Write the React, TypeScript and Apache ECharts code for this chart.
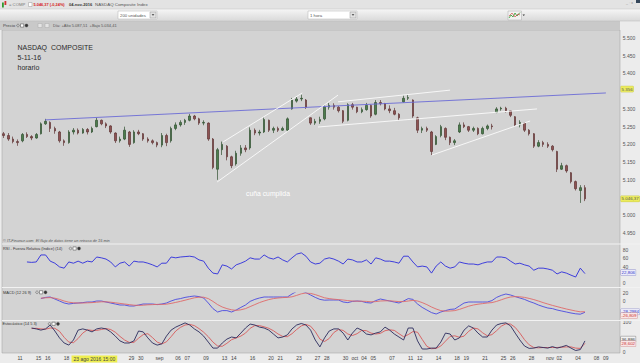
import React, { useEffect, useRef } from "react";
import * as echarts from "echarts";

const FONT = "'Liberation Sans', 'DejaVu Sans', Arial, sans-serif";

// ---- time axis: trading days (Aug 11 2016 = day 0); two half-day bars per day, slot = 2*day + 4
const SLOT_COUNT = 133;
const axisTickDays = [0, 2, 3, 5, 8, 12, 13, 15, 17, 18, 20, 22, 23, 25, 27, 28, 30, 32, 33, 35, 36, 37, 38, 40, 42, 43, 45, 47, 48, 50, 52, 53, 55, 57, 58, 60, 62, 63];
const axisTickLabels = ["11", "15", "16", "18", "23 ago 2016 15:00", "29", "30", "sep", "06", "07", "09", "13", "14", "16", "20", "21", "23", "27", "28", "30", "oct", "04", "05", "07", "11", "12", "14", "18", "19", "21", "25", "26", "28", "nov", "02", "04", "08", "09"];
const HIGHLIGHT_TICK = 4;

// ---- price bars (half-day): [open, close, low, high]
const priceBars: number[][] = [
  [5230, 5225, 5218, 5235], [5225, 5215, 5210, 5232], [5215, 5208, 5203, 5222], [5208, 5205, 5196, 5214],
  [5210, 5228, 5206, 5232], [5228, 5222, 5218, 5234], [5222, 5218, 5212, 5226], [5218, 5228, 5216, 5232],
  [5230, 5258, 5228, 5262], [5258, 5265, 5255, 5272], [5262, 5245, 5235, 5265], [5245, 5238, 5230, 5250],
  [5235, 5210, 5205, 5238], [5210, 5205, 5196, 5214], [5205, 5235, 5202, 5240], [5235, 5240, 5228, 5246],
  [5240, 5232, 5228, 5245], [5232, 5242, 5230, 5246], [5242, 5235, 5228, 5246], [5235, 5245, 5232, 5250],
  [5250, 5268, 5248, 5275], [5268, 5258, 5254, 5270], [5258, 5252, 5246, 5262], [5252, 5235, 5230, 5254],
  [5232, 5210, 5204, 5234], [5210, 5215, 5205, 5222], [5215, 5240, 5212, 5250], [5235, 5200, 5193, 5238],
  [5205, 5235, 5202, 5240], [5235, 5230, 5226, 5241], [5230, 5215, 5210, 5232], [5215, 5210, 5205, 5220],
  [5210, 5205, 5200, 5214], [5205, 5198, 5192, 5208], [5198, 5225, 5192, 5232], [5225, 5205, 5195, 5230],
  [5210, 5245, 5205, 5250], [5245, 5255, 5240, 5262], [5255, 5262, 5250, 5268], [5262, 5268, 5255, 5272],
  [5268, 5280, 5265, 5286], [5280, 5272, 5268, 5283], [5272, 5260, 5255, 5275], [5260, 5262, 5254, 5268],
  [5260, 5215, 5210, 5262], [5215, 5135, 5130, 5218], [5130, 5185, 5100, 5190], [5185, 5200, 5170, 5208],
  [5195, 5165, 5155, 5198], [5165, 5140, 5133, 5168], [5145, 5175, 5140, 5182], [5175, 5190, 5168, 5198],
  [5190, 5185, 5178, 5198], [5190, 5240, 5185, 5248], [5240, 5232, 5226, 5245], [5232, 5235, 5225, 5241],
  [5235, 5270, 5232, 5276], [5268, 5240, 5235, 5270], [5240, 5245, 5232, 5250], [5245, 5240, 5235, 5250],
  [5240, 5245, 5238, 5250], [5240, 5272, 5235, 5276], [5300, 5325, 5298, 5331], [5322, 5328, 5318, 5334],
  [5328, 5330, 5322, 5340], [5325, 5305, 5300, 5328], [5275, 5260, 5255, 5276], [5260, 5265, 5255, 5272],
  [5265, 5270, 5258, 5278], [5272, 5305, 5268, 5310], [5305, 5310, 5298, 5317], [5310, 5305, 5298, 5316],
  [5305, 5295, 5290, 5308], [5295, 5265, 5260, 5297], [5268, 5312, 5265, 5316], [5312, 5305, 5298, 5317],
  [5305, 5292, 5288, 5306], [5292, 5298, 5288, 5304], [5298, 5310, 5295, 5317], [5310, 5280, 5275, 5312],
  [5285, 5318, 5282, 5325], [5318, 5315, 5310, 5325], [5315, 5300, 5296, 5317], [5300, 5295, 5288, 5310],
  [5295, 5285, 5282, 5303], [5285, 5275, 5268, 5288], [5320, 5330, 5318, 5338], [5330, 5332, 5325, 5340],
  [5325, 5280, 5275, 5327], [5275, 5240, 5232, 5278], [5240, 5245, 5232, 5250], [5245, 5240, 5235, 5250],
  [5235, 5180, 5170, 5238], [5200, 5222, 5198, 5226], [5225, 5250, 5220, 5255], [5245, 5220, 5212, 5248],
  [5220, 5205, 5198, 5222], [5205, 5210, 5198, 5215], [5235, 5255, 5232, 5262], [5255, 5250, 5246, 5262],
  [5250, 5240, 5235, 5252], [5240, 5245, 5235, 5250], [5245, 5230, 5226, 5248], [5230, 5245, 5228, 5250],
  [5245, 5252, 5240, 5256], [5252, 5250, 5242, 5258], [5290, 5300, 5288, 5305], [5300, 5302, 5295, 5306],
  [5302, 5295, 5290, 5306], [5295, 5282, 5277, 5296], [5278, 5255, 5250, 5280], [5255, 5262, 5248, 5268],
  [5260, 5240, 5235, 5262], [5240, 5230, 5225, 5243], [5230, 5195, 5190, 5232], [5195, 5205, 5192, 5212],
  [5205, 5200, 5193, 5210], [5200, 5195, 5190, 5206], [5195, 5185, 5180, 5198], [5180, 5130, 5122, 5182],
  [5130, 5140, 5128, 5148], [5140, 5125, 5120, 5143], [5120, 5095, 5090, 5122], [5095, 5075, 5070, 5098],
  [5070, 5078, 5035, 5085], [5078, 5046.37, 5040, 5085],
];
const LAST_PRICE = 5046.37;
const TREND_TAG = 5356;

// ---- hand-drawn trend lines: [[slot, price], [slot, price]]
const blueTrend = [[8.9, 5269], [129.5, 5345]];
const whiteTrends = [
  [[45.9, 5094], [71.9, 5339]],
  [[47.2, 5207], [64.2, 5345]],
  [[71.9, 5320], [96.0, 5353]],
  [[67.6, 5249], [114.7, 5300]],
  [[92.1, 5170], [113.2, 5266]],
];

// ---- RSI (14), from slot 5
const RSI_START = 5;
const rsi = [51, 50, 51, 68, 68, 53, 48, 39, 36, 51, 48, 53, 48, 53, 51, 63, 61, 58, 51, 39, 48, 51, 41, 53, 51, 51, 48, 44, 39, 48, 48, 63, 61, 63, 64, 65, 63, 56, 53, 36, 24, 22, 44, 41, 34, 44, 48, 53, 61, 58, 58, 68, 61, 58, 63, 56, 51, 61, 70, 73, 65, 51, 46, 48, 58, 61, 58, 53, 46, 58, 56, 51, 51, 56, 46, 61, 58, 53, 53, 51, 48, 65, 65, 51, 39, 41, 39, 24, 41, 51, 41, 36, 39, 51, 48, 46, 46, 44, 48, 51, 51, 63, 63, 61, 53, 46, 48, 44, 41, 31, 36, 36, 34, 31, 22, 27, 24, 19, 14.5, 36, 22.806];

// ---- MACD (12 26 9), from slot 8
const MACD_START = 8;
const macdLine = [6, 9, 10, 5, 0, -5, -7.5, -6, -5, -4, -2.5, -2.5, 0, 0, -2.5, -5, -7.5, -10, -10, -12.5, -12.5, -10, -7.5, -7.5, -7.5, -9, -7.5, -5, 0, 4, 6, 9, 11, 12.5, 11, 7.5, -5, -19, -27.5, -24, -24, -27.5, -22.5, -16, -10, -1, 4, 7.5, 10, 10, 10, 10, 10, 10, 17.5, 24, 25, 21, 15, 9, 4, 2, 2.5, 2.5, 2.5, -2.5, -4, -1, 0, -1, -4, -5, 1, 5, 2.5, 0, -2.5, -5, 0, 6, 4, -7.5, -16, -22.5, -29, -32.5, -27.5, -24, -21, -20, -12.5, -5, -2.5, -2.5, -2.5, -2.5, -2.5, 1, 9, 14, 17.5, 15, 11, 7.5, 4, -1, -5, -10, -14, -17.5, -19, -22.5, -25, -27.5, -30, -32, -33, -28.2984];
const macdSignal = [7, 8, 8.5, 7, 4, 0, -3, -4.5, -5, -5, -4.5, -4, -3, -2, -2, -3, -4.5, -6, -7.5, -9, -10.5, -11, -10.5, -9.5, -9, -8.5, -8.5, -8, -6, -3.5, -1, 2, 5, 8, 9.5, 9.5, 6, -1, -9, -15, -19, -22, -23.5, -22, -19, -14, -9, -4, 0, 3.5, 6, 7.5, 8.5, 9, 10.5, 14, 18, 20, 19, 16, 12, 8, 6, 4.5, 3.5, 2.5, 1, 0, -0.5, -0.5, -1, -2, -1.5, 0, 0.5, 0.5, -0.5, -1.5, -1.5, 0, 1.5, 0, -4, -9, -15, -20, -24, -25.5, -25, -24, -21, -17, -13, -10, -8, -6.5, -5, -4, -1, 3, 7, 10, 11, 10.5, 9, 6.5, 3.5, 0, -4, -7.5, -11, -14, -17, -20, -22.5, -25, -27, -26.809];

// ---- Stochastic (14 5 3), from slot 6
const STOCH_START = 6;
const stochK = [80, 77, 73, 77, 90, 70, 47, 30, 23, 40, 73, 77, 73, 67, 77, 80, 77, 67, 53, 37, 30, 30, 37, 70, 67, 47, 30, 23, 27, 53, 73, 83, 90, 97, 90, 77, 67, 53, 33, 13, 13, 30, 43, 50, 47, 63, 80, 93, 90, 83, 80, 73, 60, 47, 50, 57, 77, 90, 95, 90, 73, 40, 17, 47, 70, 77, 77, 63, 40, 63, 80, 73, 60, 57, 63, 67, 83, 73, 60, 50, 40, 80, 80, 37, 10, 10, 13, 13, 33, 63, 60, 40, 47, 73, 87, 80, 63, 50, 50, 73, 90, 95, 97, 87, 63, 40, 20, 12, 13, 17, 15, 13, 18, 13, 17, 22, 13, 5, 8, 36.886];
const stochD = [78, 79, 77, 76, 80, 79, 69, 49, 33, 31, 45, 63, 74, 72, 72, 75, 78, 75, 66, 52, 40, 32, 32, 46, 58, 61, 48, 33, 27, 34, 51, 70, 82, 90, 92, 88, 78, 66, 51, 33, 20, 19, 29, 41, 47, 53, 63, 79, 88, 88, 84, 79, 71, 60, 52, 51, 61, 75, 87, 92, 86, 68, 43, 35, 45, 65, 75, 72, 60, 55, 61, 72, 71, 63, 60, 62, 71, 74, 72, 61, 51, 58, 68, 66, 42, 19, 11, 12, 20, 36, 52, 54, 49, 53, 69, 80, 77, 64, 54, 58, 71, 86, 94, 93, 82, 63, 41, 24, 15, 14, 15, 15, 15, 15, 16, 17, 17, 13, 12, 28.602];

// axis labels that the value tags cover in the reference
const hiddenPriceLabels = [5350, 5050];
const hiddenRsiLabels = [20, 100];

// value tags on the right axis strip: [yAxisIndex, value, text, kind, nudge]
const valueTags: [number, number, string, string, number][] = [
  [1, TREND_TAG, "5.356", "yellow", 0],
  [1, LAST_PRICE, "5.046,37", "yellow", 0],
  [2, rsi[rsi.length - 1], "22,806", "blue", -1],
  [3, macdLine[macdLine.length - 1], "-28,2984", "blue", -0.5],
  [3, macdSignal[macdSignal.length - 1], "-26,809", "red", 4],
  [4, stochK[stochK.length - 1], "36,886", "dark", -1.8],
  [4, stochD[stochD.length - 1], "28,602", "red", 0.3],
];
const TAG_STYLES: Record<string, { fill: string; bg: string; border: string }> = {
  yellow: { fill: "#555", bg: "#ecec5c", border: "#c8c840" },
  blue: { fill: "#3333cc", bg: "#ececf8", border: "#9a9ad0" },
  red: { fill: "#cc3333", bg: "#f8e6e6", border: "#d09a9a" },
  dark: { fill: "#333", bg: "#f2f2f2", border: "#777" },
};

const fmtThousands = (v: number) => {
  const s = String(Math.round(v));
  return s.length > 3 ? s.slice(0, s.length - 3) + "." + s.slice(-3) : s;
};

const PLOT_LEFT = 1.375;
const PLOT_WIDTH = 618.45;

function buildOption() {
  const g = echarts.graphic;
  const txt = (x: number, y: number, text: string, o: any = {}) => ({
    type: "text",
    x,
    y,
    z: 20,
    silent: true,
    style: {
      text,
      fill: o.fill || "#444",
      fontSize: o.size || 4.5,
      fontFamily: FONT,
      fontWeight: o.weight || "normal",
      fontStyle: o.style || "normal",
      align: o.align || "left",
      verticalAlign: "middle",
    },
  });
  const rect = (x: number, y: number, w: number, h: number, fill: any, stroke?: string, lw = 0.5) => ({
    type: "rect",
    z: 19,
    silent: true,
    shape: { x, y, width: w, height: h },
    style: { fill, stroke: stroke || "none", lineWidth: lw },
  });
  const hline = (y: number, x1: number, x2: number, stroke: string, lw = 1) => ({
    type: "line",
    z: 19,
    silent: true,
    shape: { x1, y1: y, x2, y2: y },
    style: { stroke, lineWidth: lw },
  });
  const icons = (x: number, y: number) => [
    { type: "circle", z: 20, silent: true, shape: { cx: x + 1.5, cy: y, r: 1.3 }, style: { fill: "none", stroke: "#555", lineWidth: 0.5 } },
    rect(x + 4, y - 1.6, 3.2, 3.2, "#fff", "#444"),
    { type: "circle", z: 20, silent: true, shape: { cx: x + 10, cy: y, r: 1.6 }, style: { fill: "#333", stroke: "#777", lineWidth: 0.5 } },
  ];

  const headerGrad = new g.LinearGradient(0, 0, 0, 1, [
    { offset: 0, color: "#f6f6f6" },
    { offset: 1, color: "#d9d9d9" },
  ]);

  const graphics: any[] = [
    // header rows
    rect(0, 0, 640, 9, "#e3e3e3"),
    rect(0, 9, 640, 12, headerGrad),
    hline(9, 0, 640, "#c0c0c0", 0.5),
    rect(0, 21, 620, 9, "#c9c9c9"),
    hline(21, 0, 640, "#b8b8b8", 0.5),
    // row 1
    rect(2, 2.5, 1.8, 5, "#2f9a2f"),
    rect(4.5, 1, 1.8, 4, "#d03030"),
    txt(9, 4.5, "= COMP", { fill: "#777", size: 4.2 }),
    rect(28.5, 2.5, 3.5, 4, "#fff", "#999"),
    txt(33.5, 4.5, "5.046,37 (-0,24%)", { fill: "#d42020", size: 3.9, weight: "bold" }),
    txt(69, 4.5, "04-nov-2016", { fill: "#333", size: 4, weight: "bold" }),
    txt(95, 4.5, "NASDAQ Composite Index", { fill: "#555", size: 4.4 }),
    txt(626, 3, "_ ▫ x", { fill: "#888", size: 3.5 }),
    rect(636, 0, 4, 3, "#34465a"),
    // row 2
    rect(118, 11, 39, 8, "#ffffff", "#b0b0b0"),
    txt(120, 15, "200 unidades", { fill: "#555", size: 4.3 }),
    rect(150, 12, 6, 6, "#e2e2e2", "#999"),
    { type: "polygon", z: 20, silent: true, shape: { points: [[151.6, 14.2], [154.4, 14.2], [153, 15.8]] }, style: { fill: "#333" } },
    rect(308, 11, 49, 8, "#ffffff", "#b0b0b0"),
    txt(310, 15, "1 hora", { fill: "#555", size: 4.3 }),
    rect(350, 12, 6, 6, "#e2e2e2", "#999"),
    { type: "polygon", z: 20, silent: true, shape: { points: [[351.6, 14.2], [354.4, 14.2], [353, 15.8]] }, style: { fill: "#333" } },
    rect(508, 11, 13.5, 9, "#f2f2f2", "#aaa"),
    { type: "polyline", z: 20, silent: true, shape: { points: [[509, 18], [511, 15], [513, 17], [515, 13], [517, 16], [520, 12.5]] }, style: { stroke: "#2f9a2f", lineWidth: 0.8, fill: "none" } },
    { type: "polyline", z: 20, silent: true, shape: { points: [[509, 16], [512, 13], [515, 17], [518, 14], [520, 15]] }, style: { stroke: "#d03030", lineWidth: 0.6, fill: "none" } },
    { type: "polygon", z: 20, silent: true, shape: { points: [[522.5, 14.5], [525, 14.5], [523.75, 16]] }, style: { fill: "#333" } },
    // row 3
    txt(3, 25.5, "Precio", { fill: "#444", size: 4.3 }),
    ...icons(16.5, 25.5),
    rect(38, 23.5, 4, 4, "#e4e4e4", "#aaa"),
    rect(45, 23.5, 4, 4, "#e4e4e4", "#aaa"),
    txt(53, 25.5, "Día: +Alto 5.087,51  +Bajo 5.034,41", { fill: "#555", size: 4 }),
    // panel separators
    hline(244, 2, 640, "#f2f2f2", 1.2),
    hline(287.5, 2, 640, "#f2f2f2", 1.2),
    hline(320.5, 2, 640, "#f2f2f2", 1.2),
    // annotations on the price panel
    txt(17.5, 47, "NASDAQ  COMPOSITE", { fill: "#2a2a2a", size: 7 }),
    txt(17.5, 57, "5-11-16", { fill: "#2a2a2a", size: 7 }),
    txt(17.5, 67, "horario", { fill: "#2a2a2a", size: 7 }),
    txt(268, 193.5, "cuña cumplida", { fill: "#ffffff", size: 6.8, align: "center" }),
    txt(3, 240.5, "© IT-Finance.com  El flujo de datos tiene un retraso de 15 min", { fill: "#555", size: 3.9, style: "italic" }),
    // indicator titles
    txt(3, 248.5, "RSI - Fuerza Relativa (Indice) (14)", { fill: "#333", size: 3.9 }),
    ...icons(69, 248.5),
    txt(3, 292.3, "MACD (12 26 9)", { fill: "#333", size: 3.9 }),
    ...icons(35.5, 292.3),
    txt(2.5, 323.8, "Estocástico (14 5 3)", { fill: "#333", size: 3.9 }),
    ...icons(48, 323.8),
  ].map((el, k) => ({ ...el, id: "deco" + k }));

  const hiddenValueX = (gridIndex: number) => ({
    type: "value",
    gridIndex,
    min: -0.5,
    max: SLOT_COUNT - 0.5,
    show: false,
  });

  const rightAxis = (gridIndex: number, min: number, max: number, interval: number, shown: (v: number) => boolean, fmt: (v: number) => string) => ({
    type: "value",
    gridIndex,
    min,
    max,
    interval,
    position: "right",
    axisLine: { show: false },
    axisTick: { show: false },
    splitLine: { show: false },
    axisLabel: {
      show: true,
      fontSize: 5,
      color: "#555",
      fontFamily: FONT,
      margin: 3,
      formatter: (v: number) => (shown(v) ? fmt(v) : ""),
    },
  });

  const lineSeries = (name: string, xAxisIndex: number, yAxisIndex: number, start: number, values: number[], color: string) => ({
    name,
    type: "line",
    xAxisIndex,
    yAxisIndex,
    data: values.map((v, k) => [start + k, v]),
    symbol: "none",
    lineStyle: { color, width: 0.9 },
    z: 3,
  });

  const series: any[] = [
    {
      name: "COMP",
      type: "candlestick",
      xAxisIndex: 1,
      yAxisIndex: 1,
      data: priceBars,
      barWidth: 2,
      itemStyle: {
        color: "#4d7d4d",
        color0: "#8e5252",
        borderColor: "#2f4f2f",
        borderColor0: "#5e3434",
        borderWidth: 0.7,
      },
    },
    {
      name: "trend",
      type: "line",
      xAxisIndex: 2,
      yAxisIndex: 1,
      data: blueTrend,
      symbol: "none",
      lineStyle: { color: "#6b6bd6", width: 0.9 },
      z: 4,
    },
    ...whiteTrends.map((pts, k) => ({
      name: "canal" + k,
      type: "line",
      xAxisIndex: 2,
      yAxisIndex: 1,
      data: pts,
      symbol: "none",
      lineStyle: { color: "#f7f7f7", width: 1 },
      z: 4,
    })),
    lineSeries("RSI", 3, 2, RSI_START, rsi, "#2d2ddc"),
    lineSeries("MACD", 4, 3, MACD_START, macdLine, "#4a4ae0"),
    lineSeries("Señal", 4, 3, MACD_START, macdSignal, "#e06a6a"),
    lineSeries("%D", 5, 4, STOCH_START, stochD, "#d85a5a"),
    lineSeries("%K", 5, 4, STOCH_START, stochK, "#2b2b5e"),
  ];

  const slots = Array.from({ length: SLOT_COUNT }, (_, i) => String(i));

  return {
    animation: false,
    backgroundColor: "#ececec",
    textStyle: { fontFamily: FONT },
    graphic: { elements: graphics },
    grid: [
      { left: 2, top: 30, width: 618, height: 323, show: true, backgroundColor: "#d3d3d3", borderColor: "#9c9c9c", borderWidth: 0.5 },
      { left: PLOT_LEFT, top: 20.27, width: PLOT_WIDTH, height: 230.5 },
      { left: PLOT_LEFT, top: 241.75, width: PLOT_WIDTH, height: 41.25 },
      { left: PLOT_LEFT, top: 293, width: PLOT_WIDTH, height: 24 },
      { left: PLOT_LEFT, top: 322, width: PLOT_WIDTH, height: 30 },
    ],
    xAxis: [
      { type: "value", gridIndex: 0, min: 0, max: 1, show: false },
      { type: "category", gridIndex: 1, data: slots, show: false, boundaryGap: true },
      hiddenValueX(1),
      hiddenValueX(2),
      hiddenValueX(3),
      {
        type: "value",
        gridIndex: 4,
        min: -0.5,
        max: SLOT_COUNT - 0.5,
        interval: 1,
        axisLine: { show: false },
        axisTick: { show: false },
        splitLine: { show: false },
        axisLabel: {
          show: true,
          fontSize: 5,
          color: "#444",
          fontFamily: FONT,
          margin: 3.5,
          showMinLabel: false,
          showMaxLabel: false,
          formatter: (v: number) => {
            const d = (v - 3.5) / 2;
            const r = Math.round(d);
            if (Math.abs(d - r) > 0.01) return "";
            const k = axisTickDays.indexOf(r);
            if (k < 0) return "";
            return k === HIGHLIGHT_TICK ? `{hl|${axisTickLabels[k]}}` : axisTickLabels[k];
          },
          rich: {
            hl: { backgroundColor: "#eeee50", color: "#444", fontSize: 5, padding: [1, 2], fontFamily: FONT },
          },
        },
      },
    ],
    yAxis: [
      { type: "value", gridIndex: 0, min: 0, max: 1, show: false },
      rightAxis(1, 4900, 5550, 50, (v) => v > 4900 && v < 5550 && hiddenPriceLabels.indexOf(v) < 0, fmtThousands),
      rightAxis(2, 0, 100, 20, (v) => hiddenRsiLabels.indexOf(v) < 0, (v) => String(v)),
      rightAxis(3, -40, 20, 20, (v) => v >= 0, (v) => String(v)),
      rightAxis(4, 0, 100, 100, () => true, (v) => String(v)),
    ],
    series,
  };
}

export default function App() {
  const ref = useRef<HTMLDivElement>(null);
  useEffect(() => {
    if (!ref.current) return;
    const chart = echarts.init(ref.current, null, { renderer: "svg" });
    chart.setOption(buildOption() as any);
    // value tags placed on the axis strip through each panel's own y scale
    const tagElements = valueTags.map(([axis, value, text, kind, nudge], k) => {
      const y = chart.convertToPixel({ yAxisIndex: axis } as any, value) as unknown as number;
      const st = TAG_STYLES[kind];
      return {
        type: "text",
        id: "tag" + k,
        x: 621,
        y: y + nudge,
        z: 30,
        silent: true,
        style: {
          text,
          fill: st.fill,
          fontSize: 4.4,
          fontFamily: FONT,
          align: "left",
          verticalAlign: "middle",
          backgroundColor: st.bg,
          borderColor: st.border,
          borderWidth: 0.5,
          padding: [1, 0.6, 0.5, 0.6],
        },
      };
    });
    chart.setOption({ graphic: { elements: tagElements } } as any);
    return () => chart.dispose();
  }, []);
  return <div ref={ref} style={{ position: "absolute", left: 0, top: 0, width: 640, height: 363 }} />;
}
